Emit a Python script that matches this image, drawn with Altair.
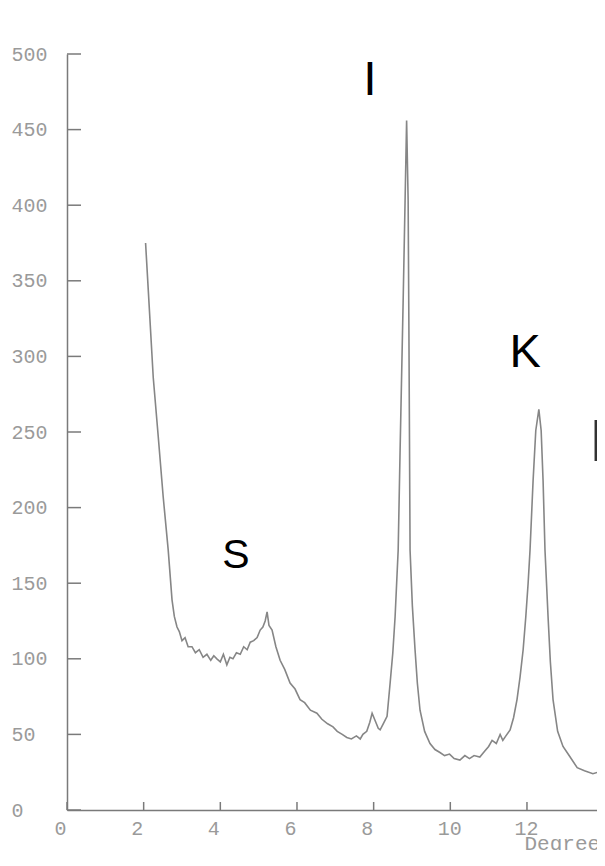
import altair as alt
import pandas as pd

# XRD trace (degrees 2-theta vs counts)
deg = [2.05, 2.12, 2.25, 2.38, 2.51, 2.64, 2.74, 2.80, 2.87, 2.93, 3.00, 3.08, 3.16, 3.26,
       3.35, 3.45, 3.55, 3.65, 3.75, 3.83, 3.91, 4.00, 4.08, 4.17, 4.25, 4.33, 4.42, 4.52,
       4.61, 4.70, 4.78, 4.87, 4.96, 5.04, 5.11, 5.17, 5.22, 5.27, 5.35, 5.45, 5.56, 5.68,
       5.82, 5.95, 6.08, 6.20, 6.35, 6.52, 6.65, 6.80, 6.94, 7.05, 7.18, 7.30, 7.42, 7.55,
       7.65, 7.72, 7.82, 7.90, 7.96, 8.04, 8.12, 8.17, 8.25, 8.35, 8.43, 8.50, 8.56, 8.64,
       8.69, 8.77, 8.82, 8.86, 8.90, 8.92, 8.95, 9.01, 9.08, 9.14, 9.21, 9.33, 9.47, 9.60,
       9.73, 9.85, 9.98, 10.10, 10.25, 10.38, 10.50, 10.62, 10.77, 10.90, 11.00, 11.09,
       11.20, 11.30, 11.37, 11.45, 11.56, 11.65, 11.74, 11.82, 11.90, 11.97, 12.03, 12.08,
       12.16, 12.23, 12.31, 12.37, 12.42, 12.47, 12.55, 12.61, 12.68, 12.80, 12.94, 13.10,
       13.31, 13.50, 13.72, 13.85, 13.98, 14.05]
counts = [375, 344, 286, 247, 207, 172, 139, 128, 121, 118, 112, 114, 108, 108,
          104, 106, 101, 103, 99, 102, 100, 98, 103, 96, 101, 100, 104, 103,
          108, 106, 111, 112, 114, 119, 121, 125, 131, 122, 119, 108, 99, 93,
          84, 80, 73, 71, 66, 64, 60, 57, 55, 52, 50, 48, 47, 49,
          47, 50, 52, 58, 64, 59, 54, 53, 57, 62, 84, 104, 128, 172,
          238, 337, 403, 456, 403, 317, 172, 135, 106, 84, 66, 52, 44, 40,
          38, 36, 37, 34, 33, 36, 34, 36, 35, 39, 42, 46,
          44, 50, 46, 49, 53, 61, 73, 88, 106, 128, 150, 172,
          218, 251, 265, 251, 218, 172, 128, 98, 73, 52, 42, 36,
          28, 26, 24, 25, 25, 24]

x_ticks = [0, 2, 4, 6, 8, 10, 12, 14]
y_ticks = [0, 50, 100, 150, 200, 250, 300, 350, 400, 450, 500]

peak_labels = ["I", "K", "S"]
peak_label_x = [7.905, 11.95, 4.41]
peak_label_y = [473, 293, 160]
peak_label_size = [48, 47, 41]

edge_label = ["I"]
edge_label_x = [13.62]
edge_label_y = [231]
edge_label_size = [60]

W, H = 530, 756
GRAY = "#868686"
AXC = "#7a7a7a"
LBL = "#9a9a9a"
MONO = "Liberation Mono"

xscale = alt.Scale(domain=[0, 13.827], nice=False, zero=False)
yscale = alt.Scale(domain=[0, 500], nice=False)

trace = pd.DataFrame({"deg": deg, "counts": counts})

line = alt.Chart(trace).mark_line(color=GRAY, strokeWidth=1.6, clip=True).encode(
    x=alt.X("deg:Q", scale=xscale,
            axis=alt.Axis(values=x_ticks, ticks=False, tickSize=0, grid=False,
                          domainColor=AXC, domainWidth=1.5,
                          labelFont=MONO, labelFontSize=20, labelColor=LBL,
                          labelAlign="left", labelOffset=-13, labelPadding=18,
                          labelBaseline="middle", labelFlush=False, labelOverlap=False,
                          format="d",
                          title="Degrees", titleFont=MONO, titleFontSize=21,
                          titleFontWeight="normal", titleColor=LBL,
                          titleX=457, titleY=33, titleAlign="left",
                          titleBaseline="middle", titleAnchor="start")),
    y=alt.Y("counts:Q", scale=yscale,
            axis=alt.Axis(values=y_ticks, ticks=False, tickSize=0, grid=False,
                          domainColor=AXC, domainWidth=1.5,
                          labelFont=MONO, labelFontSize=20, labelColor=LBL,
                          labelAlign="left", labelPadding=56,
                          labelBaseline="middle", labelFlush=False, labelOverlap=False,
                          format="d", title=None)),
)

yt = alt.Chart(pd.DataFrame({"v": y_ticks})).mark_rule(color=AXC, strokeWidth=1.5).encode(
    y=alt.Y("v:Q", scale=yscale),
    x=alt.value(0), x2=alt.value(14),
)
xt = alt.Chart(pd.DataFrame({"v": x_ticks[:-1]})).mark_rule(color=AXC, strokeWidth=1.5).encode(
    x=alt.X("v:Q", scale=xscale),
    y=alt.value(H - 8), y2=alt.value(H),
)

labels = alt.Chart(pd.DataFrame({"t": peak_labels, "x": peak_label_x,
                                 "y": peak_label_y, "s": peak_label_size})).mark_text(
    font="Liberation Sans", color="black", align="center", baseline="alphabetic"
).encode(
    x=alt.X("x:Q", scale=xscale),
    y=alt.Y("y:Q", scale=yscale),
    text="t:N",
    size=alt.Size("s:Q", scale=None, legend=None),
)

edge = alt.Chart(pd.DataFrame({"t": edge_label, "x": edge_label_x,
                               "y": edge_label_y, "s": edge_label_size})).mark_text(
    font="Liberation Sans", color="#333", align="left", baseline="alphabetic"
).encode(
    x=alt.X("x:Q", scale=xscale),
    y=alt.Y("y:Q", scale=yscale),
    text="t:N",
    size=alt.Size("s:Q", scale=None, legend=None),
)

chart = alt.layer(line, yt, xt, labels, edge).properties(
    width=W, height=H,
    autosize=alt.AutoSizeParams(type="none"),
    padding={"left": 59, "top": 46, "right": 0, "bottom": 40},
    background="white",
).configure_view(stroke=None)

chart.save("out.html", embed_options={"renderer": "svg", "actions": False})
